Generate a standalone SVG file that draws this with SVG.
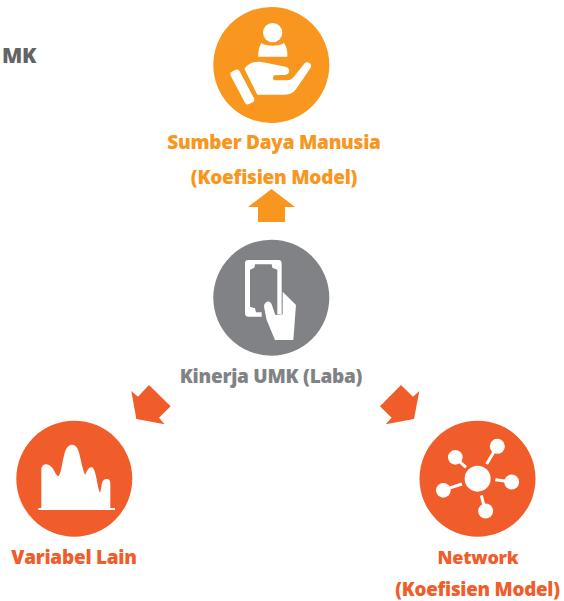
<svg xmlns="http://www.w3.org/2000/svg" width="564" height="601" viewBox="0 0 564 601">
<style>
.t{font-family:"Open Sans","Noto Sans",sans-serif;font-weight:800;font-size:19px;text-anchor:middle;letter-spacing:-.25px}
.o{fill:#f8961d}.r{fill:#f15d2a}.g{fill:#808285}.w{fill:#fff}
.ws{stroke:#fff;fill:none}
</style>
<rect width="564" height="601" fill="#fff"/>
<text x="2" y="63" class="t" style="text-anchor:start;fill:#636466;font-size:21px">MK</text>
<g id="connectors">
<polygon class="o" points="271.5,189 295,207 285,207 285,222 258,222 258,207 248,207"/>
<polygon class="r" transform="translate(10,380) scale(.3333)" points="364,33 384,50 417,15 482,79 447,113 464,133 379,117"/>
<polygon class="r" transform="translate(370,380) scale(.3333)" points="148,33 129,50 93,15 30,79 65,113 47,133 132,117"/>
</g>
<g id="node-sdm">
<circle class="o" cx="271.3" cy="65" r="58"/>
<g transform="translate(200,10) scale(.3333)">
<circle class="w" cx="218" cy="68" r="29"/>
<path class="w" d="M184,99 C200,110 236,110 252,99 C260,110 263,125 262,140 L175,140 C174,125 177,110 184,99Z"/>
<path class="w" d="M133,176 C145,160 165,152 185,156 L250,169 C263,170 270,178 267,187 C264,194 257,196 250,195 L224,196 C218,197 217,210 224,211 L262,211 C270,211 276,207 281,201 L313,161 C320,153 330,157 333,165 C334,170 332,174 329,178 L290,235 C282,247 270,254 255,254 L172,254Z"/>
<rect class="w" x="-15" y="-55" width="30" height="110" rx="9" transform="translate(127,231) rotate(-28)"/>
</g>
<text class="t" x="274" y="149" style="fill:#f8961d">Sumber Daya Manusia</text>
<text class="t" x="274" y="184" style="fill:#f8961d">(Koefisien Model)</text>
</g>
<g id="node-kinerja">
<circle class="g" cx="271.3" cy="297.7" r="58"/>
<g transform="translate(240,255) scale(.3333)">
<path class="w" d="M25,15 H115 Q125,15 125,25 V178 H112 V44 L97,38 L95,28 H45 L43,38 L30,44 V155 L45,160 L48,172 H65 V185 H25 Q15,185 15,175 V25 Q15,15 25,15Z"/>
<path class="w" d="M72,155 C72,142 88,132 95,148 L106,180 L128,178 V110 L168,150 L160,255 H105 L80,195Z"/>
</g>
<text class="t" x="271" y="383" style="fill:#808285">Kinerja UMK (Laba)</text>
</g>
<g id="node-lain">
<circle class="r" cx="74.3" cy="478.7" r="58"/>
<g transform="translate(10,380) scale(.3333)">
<path class="w" d="M85,384 L94,384 L94,265 C97,250 115,247 128,265 C134,275 140,290 146,288 C155,280 158,230 168,208 C175,193 192,188 202,205 C212,225 216,270 226,285 C230,270 240,258 248,263 C258,270 262,320 270,338 C276,325 272,303 285,298 C296,294 301,300 301,310 L301,384 L315,384 L315,390 L85,390Z"/>
</g>
<text class="t" x="74" y="564" style="fill:#f15d2a">Variabel Lain</text>
</g>
<g id="node-network">
<circle class="r" cx="477.5" cy="478.7" r="58"/>
<g transform="translate(370,380) scale(.3333)">
<circle class="w" cx="323" cy="296" r="39"/>
<circle class="w" cx="382" cy="199" r="22.5"/>
<circle class="w" cx="256" cy="232" r="22"/>
<circle class="w" cx="425" cy="306" r="22.5"/>
<circle class="w" cx="220" cy="331" r="22"/>
<circle class="w" cx="347" cy="393" r="22.5"/>
<path class="ws" stroke-width="9" d="M350,252 L372,215 M268,244 L288,262 M376,299 L410,304 M236,325 L276,312 M334,346 L342,378"/>
</g>
<text class="t" x="478" y="564" style="fill:#f15d2a;font-size:18px">Network</text>
<text class="t" x="477.5" y="595.5" style="fill:#f15d2a;font-size:18.8px">(Koefisien Model)</text>
</g>
</svg>
